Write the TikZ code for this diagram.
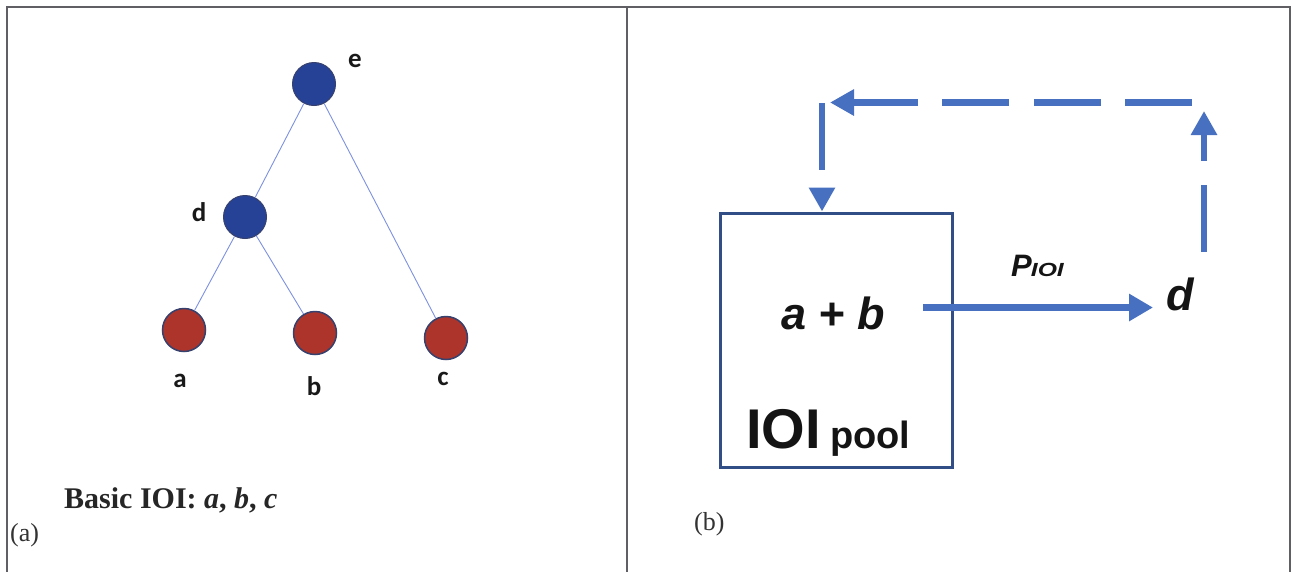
\documentclass[tikz,border=0pt]{standalone}
\usepackage{fontspec}
\setmainfont{Liberation Serif}
\newfontfamily\arialf{Liberation Sans}
\newfontfamily\calf{Carlito}
\usetikzlibrary{arrows.meta}
\definecolor{treeblue}{RGB}{38,66,150}
\definecolor{treered}{RGB}{172,52,42}
\definecolor{treeedge}{RGB}{55,65,110}
\definecolor{treeline}{RGB}{125,145,225}
\definecolor{boxblue}{RGB}{50,78,135}
\definecolor{arrblue}{RGB}{72,112,192}
\definecolor{panelgray}{RGB}{95,95,100}
\tikzset{
  panel/.style={draw=panelgray, line width=2pt},
  bluenode/.style={circle, minimum size=43pt, inner sep=0pt, fill=treeblue, draw=treeedge, line width=1pt},
  rednode/.style={circle, minimum size=43pt, inner sep=0pt, fill=treered, draw=treeedge, line width=1.5pt},
  treeedge/.style={draw=treeline, line width=0.9pt},
  treelabel/.style={inner sep=0pt, font=\calf\bfseries\fontsize{27}{29}\selectfont, text=black!90},
  flowarrow/.style={draw=arrblue, line width=7pt, -{Triangle[length=24pt,width=26pt]}},
  dasharrow/.style={draw=arrblue, line width=6.5pt, dash pattern=on 67pt off 24.5pt, -{Triangle[length=24pt,width=25pt]}},
  bigtext/.style={inner sep=0pt, font=\arialf\bfseries\itshape\fontsize{45}{47}\selectfont, text=black!92}
}
\begin{document}
\begin{tikzpicture}[x=1pt,y=-1pt]
\useasboundingbox (0,0) rectangle (1292,571);
% panel frame
\draw[panel] (7,575) -- (7,7) -- (1290,7) -- (1290,575);
\draw[panel] (627,7) -- (627,575);

% tree
\node[bluenode] (e) at (314,84) {};
\node[bluenode] (d) at (245,217) {};
\node[rednode] (a) at (184,330) {};
\node[rednode] (b) at (315,333) {};
\node[rednode] (c) at (446,338) {};
\draw[treeedge] (e) -- (d);
\draw[treeedge] (e) -- (c);
\draw[treeedge] (d) -- (a);
\draw[treeedge] (d) -- (b);
\node[treelabel] (le) at (355,61) {e};
\node[treelabel] (ld) at (199,212) {d};
\node[treelabel] (la) at (180,381) {a};
\node[treelabel] (lb) at (314,386) {b};
\node[treelabel] (lc) at (443,379) {c};

\node[anchor=base west, inner sep=0pt, font=\bfseries\fontsize{30}{32}\selectfont, text=black!85] (basic) at (64,508) {Basic IOI: \textit{a}, \textit{b}, \textit{c}};
\node[anchor=base west, inner sep=0pt, font=\fontsize{26}{28}\selectfont, text=black!80] (pa) at (10,541) {(a)};
\node[anchor=base west, inner sep=0pt, font=\fontsize{26}{28}\selectfont, text=black!80] (pb) at (694,530) {(b)};

% right panel
\node[draw=boxblue, line width=3pt, minimum width=232pt, minimum height=254pt, inner sep=0pt] (pool) at (836,340) {};
\node[bigtext] (ab) at (833,313) {a + b};
\node[anchor=base west, inner sep=0pt, font=\arialf\bfseries\fontsize{56}{58}\selectfont, text=black!92] (ioi) at (746,448) {IOI\,{\fontsize{38}{40}\selectfont pool}};
\node[bigtext, anchor=base west] (dd) at (1166,310) {d};
\node[anchor=base west, inner sep=0pt, font=\arialf\bfseries\itshape\fontsize{31}{33}\selectfont, text=black!92] (pioi) at (1011,276) {P\kern-1pt\scalebox{1.3}[1]{\fontsize{19}{20}\selectfont IOI}};

\coordinate (pstart) at (923,307.5);
\coordinate (pend) at (1153,307.5);
\draw[flowarrow] (pstart) -- (pend);

\coordinate (r1) at (1204,252);
\coordinate (r2) at (1204,111);
\coordinate (t1) at (1192,102.5);
\coordinate (t2) at (830,102.5);
\coordinate (l1) at (822,103);
\draw[dasharrow] (r1) -- (r2);
\draw[dasharrow] (t1) -- (t2);
\draw[dasharrow] (l1) -- (l1 |- pool.north);
\end{tikzpicture}
\end{document}
